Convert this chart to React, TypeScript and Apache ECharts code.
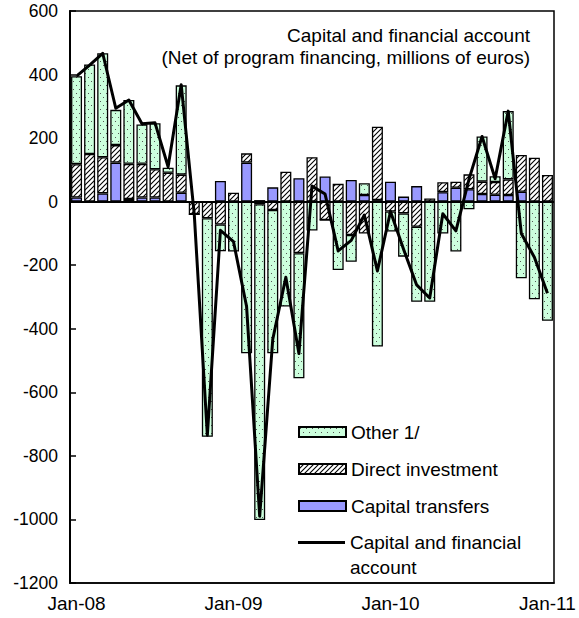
import React, { useEffect, useRef } from "react";
import * as echarts from "echarts";

const months: string[] = [
  "Jan-08","Feb-08","Mar-08","Apr-08","May-08","Jun-08","Jul-08","Aug-08","Sep-08","Oct-08","Nov-08","Dec-08",
  "Jan-09","Feb-09","Mar-09","Apr-09","May-09","Jun-09","Jul-09","Aug-09","Sep-09","Oct-09","Nov-09","Dec-09",
  "Jan-10","Feb-10","Mar-10","Apr-10","May-10","Jun-10","Jul-10","Aug-10","Sep-10","Oct-10","Nov-10","Dec-10",
  "Jan-11",
];

const capitalTransfers: number[] = [
  13, 0, 26, 123, 8, 13, 13, 0, 28, 0, 0, 65,
  0, 123, 5, 45, 0, 74, 0, 79, 0, 68, 21, 5,
  63, 16, 49, 0, 30, 44, 39, 24, 22, 21, 31, 0,
  0,
];

const directInvestment: number[] = [
  105, 150, 114, 55, 111, 106, 89, 91, 57, -40, -52, -72,
  28, 29, -8, -26, 94, -162, 140, -58, 56, -105, -100, 231,
  -31, -37, -79, 10, 31, 19, 47, 39, 40, 49, 116, 138,
  84,
];

const other: number[] = [
  277, 282, 327, 111, 201, 124, 145, 16, 281, 0, -688, -84,
  -157, -477, -994, -451, -330, -394, -91, 0, -215, -84, 37, -456,
  -63, -136, -236, -315, -100, -157, -24, 142, 18, 215, -241, -307,
  -375,
];

const capitalAndFinancial: number[] = [
  395, 430, 467, 294, 320, 245, 248, 110, 368, -40, -735, -90,
  -126, -330, -990, -433, -238, -478, 49, 24, -155, -122, -42, -218,
  -31, -150, -262, -303, -38, -92, 70, 205, 72, 285, -100, -175,
  -288,
];

const yTicks = { min: -1200, max: 600, interval: 200 };

const FONT = "'Liberation Sans', Arial, sans-serif";

function makeDots(): HTMLCanvasElement {
  const c = document.createElement("canvas");
  c.width = 6;
  c.height = 8;
  const g = c.getContext("2d")!;
  g.fillStyle = "#ccffdd";
  g.fillRect(0, 0, 6, 8);
  g.fillStyle = "#555";
  g.fillRect(1, 1, 1, 1);
  g.fillRect(4, 5, 1, 1);
  return c;
}

function makeHatch(): HTMLCanvasElement {
  const s = 5;
  const c = document.createElement("canvas");
  c.width = s;
  c.height = s;
  const g = c.getContext("2d")!;
  g.fillStyle = "#fff";
  g.fillRect(0, 0, s, s);
  g.strokeStyle = "#000";
  g.lineWidth = 1.1;
  g.beginPath();
  g.moveTo(-1, s + 1);
  g.lineTo(s + 1, -1);
  g.moveTo(-1, 1);
  g.lineTo(1, -1);
  g.moveTo(s - 1, s + 1);
  g.lineTo(s + 1, s - 1);
  g.stroke();
  return c;
}

export default function App() {
  const ref = useRef<HTMLDivElement>(null);
  useEffect(() => {
    if (!ref.current) return;
    const chart = echarts.init(ref.current, null, { renderer: "svg" });
    const dots = makeDots();
    const hatch = makeHatch();
    const dotPattern: any = { image: dots, repeat: "repeat", imageWidth: 6, imageHeight: 8 };
    const hatchPattern: any = { image: hatch, repeat: "repeat", imageWidth: 5, imageHeight: 5 };
    const barBorder = { borderColor: "#000", borderWidth: 1.3 };
    const TXT = 19;

    chart.setOption({
      animation: false,
      backgroundColor: "#fff",
      textStyle: { fontFamily: FONT },
      grid: {
        left: 70,
        right: 25,
        top: 11,
        bottom: 35,
        show: true,
        borderColor: "#000",
        borderWidth: 1.5,
        backgroundColor: "transparent",
      },
      graphic: [
        {
          type: "text",
          x: 530,
          y: 35,
          z: 100,
          style: {
            text: "Capital and financial account",
            align: "right",
            verticalAlign: "middle",
            fontSize: TXT,
            fontFamily: FONT,
            fill: "#000",
          },
        },
        {
          type: "text",
          x: 530,
          y: 57,
          z: 100,
          style: {
            text: "(Net of program financing, millions of euros)",
            align: "right",
            verticalAlign: "middle",
            fontSize: TXT,
            fontFamily: FONT,
            fill: "#000",
          },
        },
      ],
      legend: [
        {
          orient: "vertical",
          left: 298,
          top: 422,
          padding: 0,
          itemGap: 17,
          itemWidth: 47,
          itemHeight: 10,
          icon: "rect",
          textStyle: { fontSize: TXT, fontFamily: FONT, color: "#000", lineHeight: 20 },
          data: ["Other 1/", "Direct investment", "Capital transfers"],
        },
        {
          orient: "vertical",
          left: 298,
          top: 505,
          padding: 0,
          itemWidth: 47,
          itemHeight: 3,
          icon: "rect",
          textStyle: { fontSize: TXT, fontFamily: FONT, color: "#000", lineHeight: 25 },
          formatter: () => " \nCapital and financial\naccount",
          data: [
            {
              name: "Capital and financial account",
              itemStyle: { color: "#000", borderWidth: 0 },
            },
          ],
        },
      ],
      xAxis: {
        type: "category",
        data: months,
        boundaryGap: true,
        axisLine: { show: true, onZero: false, lineStyle: { color: "#000", width: 1.5 } },
        axisTick: { show: false },
        axisLabel: {
          interval: (i: number) => i % 12 === 0,
          fontSize: TXT,
          fontFamily: FONT,
          color: "#000",
          margin: 11,
        },
        splitLine: { show: false },
      },
      yAxis: {
        type: "value",
        min: yTicks.min,
        max: yTicks.max,
        interval: yTicks.interval,
        axisLine: { show: true, lineStyle: { color: "#000", width: 2 } },
        axisTick: { show: true, inside: true, length: 6, lineStyle: { color: "#000", width: 1.5 } },
        axisLabel: {
          fontSize: 17.5,
          fontFamily: FONT,
          color: "#000",
          margin: 12,
          formatter: (v: number) => String(v),
        },
        splitLine: { show: false },
      },
      series: [
        {
          name: "Capital transfers",
          type: "bar",
          stack: "cfa",
          barWidth: 11,
          data: capitalTransfers,
          itemStyle: { color: "#9999ff", ...barBorder },
          markLine: {
            silent: true,
            symbol: "none",
            label: { show: false },
            lineStyle: { color: "#000", width: 2, type: "solid" },
            data: [{ yAxis: 0 }],
            z: 5,
          },
        },
        {
          name: "Direct investment",
          type: "bar",
          stack: "cfa",
          barWidth: 11,
          data: directInvestment,
          itemStyle: { color: hatchPattern, ...barBorder },
        },
        {
          name: "Other 1/",
          type: "bar",
          stack: "cfa",
          barWidth: 11,
          data: other,
          itemStyle: { color: dotPattern, ...barBorder },
        },
        {
          name: "Capital and financial account",
          type: "line",
          data: capitalAndFinancial,
          symbol: "none",
          showSymbol: false,
          z: 10,
          lineStyle: { color: "#000", width: 3, join: "round" },
          itemStyle: { color: "#000" },
        },
      ],
    });
    return () => chart.dispose();
  }, []);
  return (
    <div
      ref={ref}
      style={{ position: "absolute", left: 0, top: 0, width: 579, height: 618 }}
    />
  );
}
